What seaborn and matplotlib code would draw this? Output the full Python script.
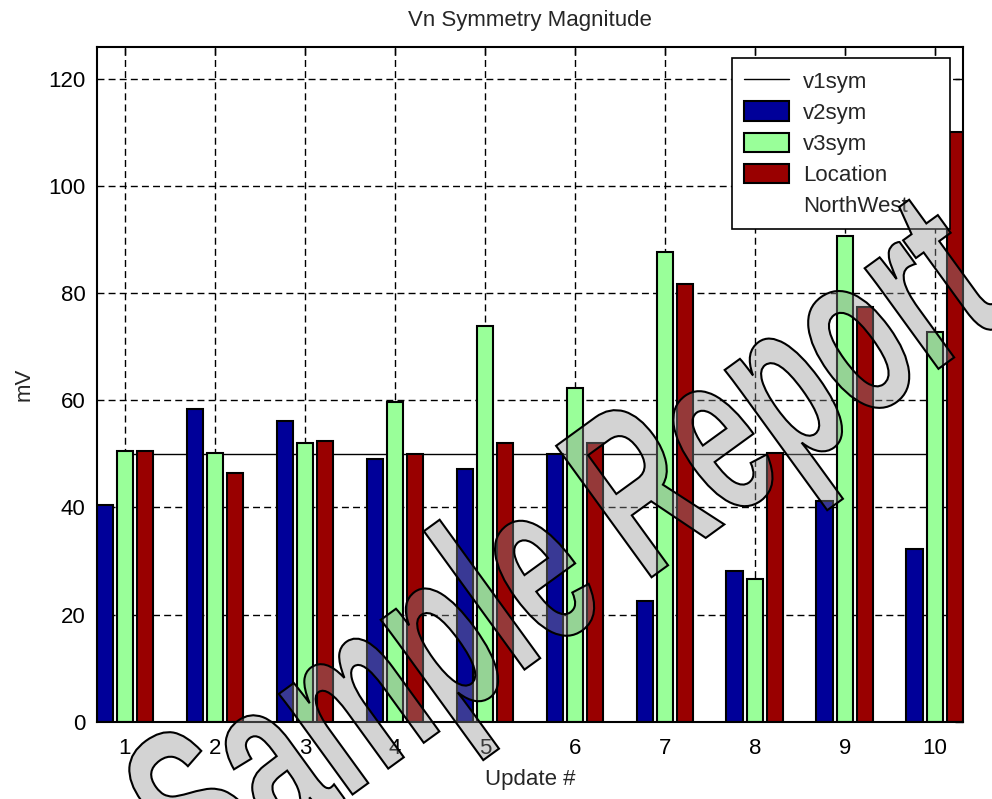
import numpy as np
import pandas as pd
import matplotlib
matplotlib.use("Agg")
import matplotlib.pyplot as plt
import matplotlib.patheffects as pe
from matplotlib.lines import Line2D
from matplotlib.patches import Patch, PathPatch
from matplotlib.transforms import Affine2D
import seaborn as sns

# ---- data ----
updates = [1, 2, 3, 4, 5, 6, 7, 8, 9, 10]
v1sym = [50, 50, 50, 50, 50, 50, 50, 50, 50, 50]
v2sym = [40.5, 58.4, 56.1, 49.0, 47.2, 50.0, 22.5, 28.1, 41.2, 32.3]
v3sym = [50.5, 50.2, 52.1, 59.6, 73.8, 62.3, 87.6, 26.6, 90.6, 72.8]
location = [50.5, 46.4, 52.4, 50.0, 52.1, 52.1, 81.7, 50.2, 77.4, 110.0]
series_names = ["v2sym", "v3sym", "Location"]
series_colors = ["#000099", "#99FF99", "#990000"]
yticks = [0, 20, 40, 60, 80, 100, 120]

df = pd.DataFrame({
    "update": updates * 3,
    "value": v2sym + v3sym + location,
    "series": [s for s in series_names for _ in updates],
})


class CondensedPatchEffect(pe.AbstractPathEffect):
    """Draws the text outline as a filled patch, condensed horizontally."""

    def __init__(self, sx=0.6, **kwargs):
        super().__init__()
        self.sx = sx
        self.patch = PathPatch([(0, 0)], **kwargs)

    def draw_path(self, renderer, gc, tpath, affine, rgbFace):
        ext = tpath.get_extents()
        cx = 0.5 * (ext.x0 + ext.x1)
        tr = Affine2D().translate(-cx, 0).scale(self.sx, 1).translate(cx, 0) + affine
        self.patch._path = tpath
        self.patch.set_transform(tr)
        self.patch.set_clip_box(gc.get_clip_rectangle())
        self.patch.draw(renderer)


sns.set_theme(style="white")
plt.rcParams["font.family"] = ["Liberation Sans", "DejaVu Sans"]

fig = plt.figure(figsize=(9.92, 7.99), dpi=100)
ax = fig.add_axes([0.0975, 0.0967, 0.8733, 0.8449])

ax.set_axisbelow(True)
ax.grid(True, color="black", linestyle=(0, (5, 3)), linewidth=1.0)

sns.lineplot(x=updates, y=v1sym, ax=ax, color="black", linewidth=1.0,
             zorder=0.9, legend=False)

sns.barplot(data=df, x="update", y="value", hue="series", native_scale=True,
            palette=dict(zip(series_names, series_colors)), hue_order=series_names,
            errorbar=None, width=0.675, gap=0.2, edgecolor="black", linewidth=1.5,
            saturation=1.0, legend=False, ax=ax, zorder=1)

ax.set_xlim(0.686, 10.314)
ax.set_ylim(0, 126)
ax.set_xticks(updates)
ax.set_xticklabels([str(u) for u in updates])
ax.set_yticks(yticks)
ax.tick_params(direction="in", length=6, width=1, top=True, right=True,
               labelsize=16, colors="black", pad=8)
ax.tick_params(axis="x", pad=12)
for s in ax.spines.values():
    s.set_color("black")
    s.set_linewidth(1.5)

ax.set_title("Vn Symmetry Magnitude", fontsize=16, pad=15)
ax.set_xlabel("Update #", fontsize=16, labelpad=7)
ax.set_ylabel("mV", fontsize=16, labelpad=10)

handles = [Line2D([0], [0], color="black", linewidth=1.0)]
handles += [Patch(facecolor=c, edgecolor="black", linewidth=1.5) for c in series_colors]
handles += [Patch(facecolor="none", edgecolor="none")]
labels = ["v1sym"] + series_names + ["NorthWest"]
leg = ax.legend(handles, labels, loc="upper left",
                bbox_to_anchor=(0.7334, 0.739, 0.2516, 0.244), mode="expand",
                borderaxespad=0, fontsize=16, frameon=True, fancybox=False,
                framealpha=1, edgecolor="black", handlelength=2.0, handleheight=0.95,
                handletextpad=0.65, borderpad=0.55, labelspacing=0.4)
leg.get_frame().set_linewidth(1.2)
leg.set_zorder(5)

fig.text(0.613, 0.238, "Sample Report", rotation=36, rotation_mode="anchor",
         ha="center", va="baseline", fontsize=170, fontweight="bold",
         family="Liberation Sans", color="#919191", zorder=10,
         path_effects=[CondensedPatchEffect(sx=0.6,
                                            facecolor=(0.57, 0.57, 0.57, 0.4),
                                            edgecolor="black", linewidth=1.5)])

fig.savefig("out.png", dpi=100)
